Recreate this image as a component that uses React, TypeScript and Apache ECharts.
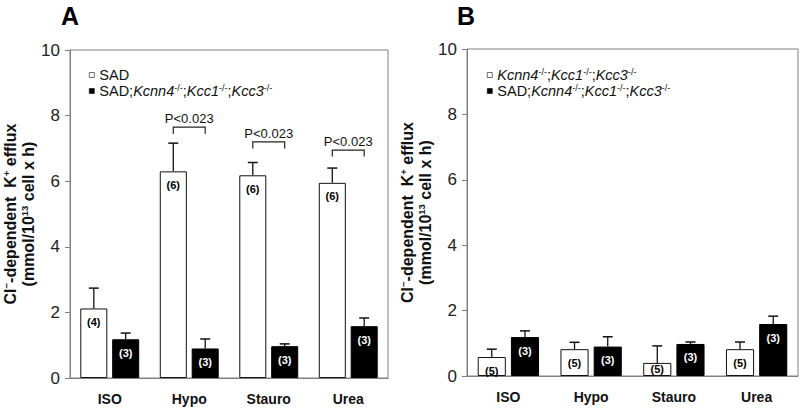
import React, { useEffect, useRef } from "react";
import * as echarts from "echarts";

const FONT = "'Liberation Sans', Arial, Helvetica, sans-serif";

const categories = ["ISO", "Hypo", "Stauro", "Urea"];

// Panel A
const aWhite = [2.12, 6.3, 6.18, 5.95];
const aWhiteErr = [0.62, 0.86, 0.39, 0.45];
const aWhiteN = ["(4)", "(6)", "(6)", "(6)"];
const aBlack = [1.18, 0.9, 0.97, 1.58];
const aBlackErr = [0.19, 0.29, 0.07, 0.25];
const aBlackN = ["(3)", "(3)", "(3)", "(3)"];
const aSigLevel = [null, 7.65, 7.2, 6.95];
const aSigText = ["", "P<0.023", "P<0.023", "P<0.023"];

// Panel B
const bWhite = [0.58, 0.82, 0.4, 0.82];
const bWhiteErr = [0.24, 0.21, 0.52, 0.22];
const bWhiteN = ["(5)", "(5)", "(5)", "(5)"];
const bBlack = [1.19, 0.9, 0.98, 1.59];
const bBlackErr = [0.19, 0.3, 0.06, 0.24];
const bBlackN = ["(3)", "(3)", "(3)", "(3)"];

const yTicks = { min: 0, max: 10, interval: 2 };

const NAME_SAD = "SAD";
const NAME_TKO = "Kcnn4-/-;Kcc1-/-;Kcc3-/-";
const NAME_SAD_TKO = "SAD;Kcnn4-/-;Kcc1-/-;Kcc3-/-";

const legendRich: Record<string, string> = {
  [NAME_SAD]: "{n|SAD}",
  [NAME_TKO]: "{i|Kcnn4}{s|-/-}{n|;}{i|Kcc1}{s|-/-}{n|;}{i|Kcc3}{s|-/-}",
  [NAME_SAD_TKO]: "{n|SAD;}{i|Kcnn4}{s|-/-}{n|;}{i|Kcc1}{s|-/-}{n|;}{i|Kcc3}{s|-/-}",
};

const yName =
  "{b|Cl}{s|−}{b|-dependent  K}{s|+}{b| efflux}\n{b|(mmol/10}{s|13}{b| cell x h)}";

const BAR_W = 0.34;
const BAR_GAP = 0.18;

export default function App() {
  const ref = useRef<HTMLDivElement>(null);

  useEffect(() => {
    if (!ref.current) return;
    const chart = echarts.init(ref.current, null, { renderer: "svg" });

    const barOffset = (api: any, side: number) => {
      const band = api.size([1, 0])[0];
      const bw = band * BAR_W;
      return (side * bw * (1 + BAR_GAP)) / 2;
    };

    const errSeries = (vals: number[], errs: number[], side: number, gi: number) => ({
      type: "custom",
      xAxisIndex: gi,
      yAxisIndex: gi,
      z: 5,
      silent: true,
      data: vals.map((v, i) => [i, v, errs[i]]),
      renderItem: (params: any, api: any) => {
        const idx = api.value(0);
        const v = api.value(1);
        const e = api.value(2);
        const p0 = api.coord([idx, v]);
        const p1 = api.coord([idx, v + e]);
        const x = p0[0] + barOffset(api, side);
        return {
          type: "group",
          children: [
            {
              type: "line",
              shape: { x1: x, y1: p0[1], x2: x, y2: p1[1] },
              style: { stroke: "#111", lineWidth: 1.3 },
            },
            {
              type: "line",
              shape: { x1: x - 5, y1: p1[1], x2: x + 5, y2: p1[1] },
              style: { stroke: "#111", lineWidth: 1.5 },
            },
          ],
        };
      },
    });

    const sigData = aSigLevel
      .map((l, i) => (l == null ? null : [i, l]))
      .filter((d) => d !== null);

    const barSeries = (
      name: string,
      vals: number[],
      ns: string[],
      gi: number,
      white: boolean
    ) => ({
      type: "bar",
      name,
      xAxisIndex: gi,
      yAxisIndex: gi,
      barWidth: BAR_W * 100 + "%",
      barGap: BAR_GAP * 100 + "%",
      itemStyle: white
        ? { color: "#ffffff", borderColor: "#111", borderWidth: 1 }
        : { color: "#000000", borderColor: "#000", borderWidth: 1 },
      label: {
        show: true,
        position: "insideTop",
        distance: 8,
        fontSize: 11,
        fontWeight: "bold",
        fontFamily: FONT,
        color: white ? "#000" : "#fff",
        formatter: (p: any) => ns[p.dataIndex],
      },
      data: vals.map((v) =>
        v < 0.5 ? { value: v, label: { position: "insideBottom", distance: 2 } } : v
      ),
    });

    const richLegend = {
      n: { fontSize: 14.5, lineHeight: 16, color: "#111", fontFamily: FONT },
      i: { fontSize: 14.5, lineHeight: 16, fontStyle: "italic", color: "#111", fontFamily: FONT },
      s: { fontSize: 9, verticalAlign: "top", color: "#111", fontFamily: FONT },
    };

    const richName = {
      b: { fontSize: 16, fontWeight: "bold", lineHeight: 18, color: "#111", fontFamily: FONT },
      s: { fontSize: 9.5, fontWeight: "bold", verticalAlign: "top", color: "#111", fontFamily: FONT },
    };

    const grids = [
      { left: 68, top: 50, width: 320, height: 328 },
      { left: 467, top: 49, width: 331, height: 327 },
    ];

    const legendBase = {
      top: 62,
      orient: "vertical",
      icon: "rect",
      itemWidth: 5,
      itemHeight: 5,
      itemGap: 0,
      selectedMode: false,
      itemStyle: { borderWidth: 0.6 },
      formatter: (name: string) => legendRich[name],
      textStyle: { rich: richLegend, fontSize: 14.5, lineHeight: 16 },
    };

    const option: any = {
      animation: false,
      textStyle: { fontFamily: FONT },
      grid: grids.map((g) => ({
        ...g,
        show: true,
        borderColor: "#808080",
        borderWidth: 1,
        backgroundColor: "transparent",
      })),
      xAxis: [0, 1].map((i) => ({
        type: "category",
        gridIndex: i,
        data: categories,
        axisTick: { show: false },
        axisLine: { lineStyle: { color: "#808080", width: 1 } },
        axisLabel: {
          fontSize: 14,
          fontWeight: "bold",
          color: "#111",
          margin: 14,
          fontFamily: FONT,
        },
      })),
      yAxis: [0, 1].map((i) => ({
        type: "value",
        gridIndex: i,
        ...yTicks,
        splitLine: { show: false },
        axisLine: { show: true, lineStyle: { color: "#808080", width: 1 } },
        axisTick: { show: true, length: 5, lineStyle: { color: "#808080" } },
        axisLabel: { fontSize: 17, color: "#222", margin: 10, fontFamily: FONT },
        name: yName,
        nameLocation: "middle",
        nameRotate: 90,
        nameGap: 33,
        nameTextStyle: { rich: richName },
      })),
      legend: [
        { ...legendBase, left: 84, data: [NAME_SAD, NAME_SAD_TKO] },
        { ...legendBase, left: 482, data: [NAME_TKO, NAME_SAD_TKO] },
      ],
      graphic: [
        {
          type: "text",
          left: 61,
          top: 3,
          style: { text: "A", fontSize: 25, fontWeight: "bold", fill: "#000", fontFamily: FONT },
        },
        {
          type: "text",
          left: 457,
          top: 3,
          style: { text: "B", fontSize: 25, fontWeight: "bold", fill: "#000", fontFamily: FONT },
        },
      ],
      series: [
        barSeries(NAME_SAD, aWhite, aWhiteN, 0, true),
        barSeries(NAME_SAD_TKO, aBlack, aBlackN, 0, false),
        barSeries(NAME_TKO, bWhite, bWhiteN, 1, true),
        barSeries(NAME_SAD_TKO, bBlack, bBlackN, 1, false),
        errSeries(aWhite, aWhiteErr, -1, 0),
        errSeries(aBlack, aBlackErr, 1, 0),
        errSeries(bWhite, bWhiteErr, -1, 1),
        errSeries(bBlack, bBlackErr, 1, 1),
        {
          type: "custom",
          xAxisIndex: 0,
          yAxisIndex: 0,
          z: 6,
          silent: true,
          data: sigData,
          renderItem: (params: any, api: any) => {
            const idx = api.value(0);
            const lvl = api.value(1);
            const p = api.coord([idx, lvl]);
            const pl = api.coord([idx, lvl - 0.2]);
            const off = barOffset(api, 1);
            const xw = p[0] - off;
            const xb = p[0] + off;
            return {
              type: "group",
              children: [
                {
                  type: "polyline",
                  shape: {
                    points: [
                      [xw, pl[1]],
                      [xw, p[1]],
                      [xb, p[1]],
                      [xb, pl[1]],
                    ],
                  },
                  style: { stroke: "#222", lineWidth: 1.2, fill: null },
                },
                {
                  type: "text",
                  x: p[0],
                  y: p[1] - 2,
                  style: {
                    text: aSigText[idx],
                    textAlign: "center",
                    textVerticalAlign: "bottom",
                    fontSize: 13,
                    fill: "#111",
                    fontFamily: FONT,
                  },
                },
              ],
            };
          },
        },
      ],
    };

    chart.setOption(option);
    return () => chart.dispose();
  }, []);

  return (
    <div
      ref={ref}
      style={{ position: "fixed", left: 0, top: 0, width: 800, height: 410, background: "#fff" }}
    />
  );
}
